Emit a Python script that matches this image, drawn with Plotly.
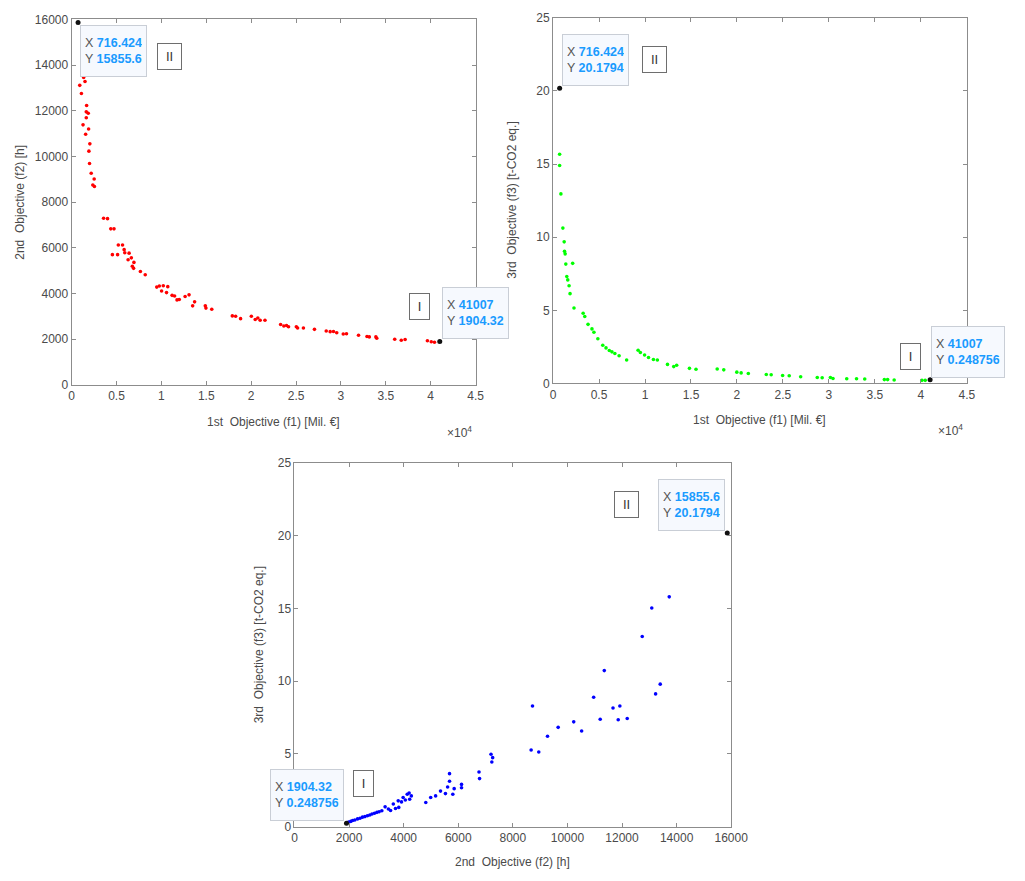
import plotly.graph_objects as go

# ---------------- data ----------------
# Panel 1: f1 vs f2
p1_f1 = [1340, 1490, 905, 1090, 1670, 1630, 1850, 1630, 1270, 1890, 1560, 2030, 1925, 1995, 2180, 2510, 2360, 2540,
         3560, 4000, 4360, 4720, 5200, 5670, 4540, 5120, 5850, 5920, 6400, 6290, 6650, 6940, 6900, 6760, 7660, 8200,
         9480, 9770, 10210, 10020, 10570, 10710, 11190, 11470, 11740, 11990, 12640, 13080, 13480, 13700, 14890, 14960, 15610,
         17900, 18270, 18820, 20020, 20450, 20740, 21000, 21540, 23280, 23640, 23940, 24160, 25030, 25170, 25820, 27050,
         28360, 28800, 29170, 29530, 30260, 30620, 31960, 32900, 33160, 33890, 33990, 35990, 36720, 37150, 39630, 40060, 40420]
p1_f2 = [13450, 13280, 13110, 12750, 12230, 11950, 11890, 11690, 11380, 11200, 10970, 10550, 10230, 9690, 9260, 9010, 8750, 8680,
         7290, 7275, 6830, 6830, 6120, 6120, 5700, 5700, 5920, 5780, 5765, 5480, 5560, 5360, 5100, 5190, 4960, 4820,
         4280, 4325, 4340, 4110, 4040, 4300, 3920, 3890, 3720, 3740, 3870, 3940, 3460, 3635, 3460, 3360, 3310,
         3020, 3005, 2900, 3005, 2860, 2930, 2830, 2830, 2640, 2575, 2600, 2545, 2545, 2490, 2490, 2430,
         2360, 2330, 2340, 2285, 2230, 2240, 2170, 2115, 2100, 2100, 2040, 2000, 1955, 1985, 1930, 1885, 1865]

# Panel 2: f1 vs f3
p2_f1 = [715, 715, 854, 1067, 1210, 1245, 1316, 1387, 2134, 1494, 1600, 1742, 1849, 2276, 3272, 3450, 3805, 4232, 4446,
         4873, 5406, 5761, 6117, 6402, 6722, 7183, 8005, 9250, 9496, 9955, 10382, 10916, 11343, 12446, 13125, 13445,
         14832, 15547, 17851, 18566, 19985, 20456, 21236, 23190, 23723, 24967, 25683, 26928, 28735, 29268, 30160,
         30445, 31941, 33007, 33896, 36031, 36386, 37098, 40118, 40474]
p2_f3 = [15.67, 14.9, 12.96, 10.62, 9.68, 9.03, 8.86, 8.16, 8.21, 7.31, 7.08, 6.68, 6.14, 5.16, 4.80, 4.58, 4.04, 3.73, 3.50,
         3.05, 2.61, 2.43, 2.25, 2.16, 2.05, 1.89, 1.60, 2.27, 2.11, 1.94, 1.77, 1.64, 1.60, 1.30, 1.15, 1.24,
         1.03, 0.97, 0.99, 0.93, 0.77, 0.72, 0.68, 0.61, 0.59, 0.54, 0.52, 0.46, 0.41, 0.39, 0.41,
         0.34, 0.32, 0.32, 0.30, 0.26, 0.26, 0.23, 0.21, 0.21]

# Panel 3: f2 vs f3
p3_f2 = [13730, 13090, 12740, 11350, 13400, 13230, 8720, 10960, 11920, 11670, 10230, 11200, 11860, 12190, 9660, 10520,
         9270, 8670, 8950, 7200, 7260, 7230, 6760, 6780, 5680, 5680, 5610, 5530, 5850, 6120, 6120, 5800, 5350, 5170,
         4990, 4810, 4280, 4220, 4130, 3980, 3920, 3800, 3820, 3620, 3440, 3320, 3200, 3020, 2840, 2670, 2490, 2310,
         2130, 1980, 2060, 2210, 2400, 2580, 2760, 2930, 3100, 3520, 3700, 4060, 4200]
p3_f3 = [15.80, 15.03, 13.07, 10.73, 9.80, 9.13, 8.30, 8.90, 8.30, 8.16, 7.21, 7.39, 7.35, 7.44, 6.83, 6.58,
         6.22, 5.27, 5.14, 4.98, 4.75, 4.45, 3.76, 3.31, 3.65, 3.13, 2.73, 2.28, 2.62, 2.91, 2.68, 2.23, 2.45, 2.12,
         2.01, 1.67, 2.12, 1.89, 2.23, 2.01, 1.71, 1.78, 1.33, 1.56, 1.22, 1.37, 1.10, 0.99, 0.88, 0.76, 0.66, 0.54,
         0.43, 0.32, 0.37, 0.47, 0.59, 0.70, 0.81, 0.93, 1.03, 1.12, 1.26, 1.84, 2.32]

# Extreme solutions (datatips)
pt_I = {"f1": 41007, "f2": 1904.32, "f3": 0.248756}
pt_II = {"f1": 716.424, "f2": 15855.6, "f3": 20.1794}

f1_ticks = [0, 5000, 10000, 15000, 20000, 25000, 30000, 35000, 40000, 45000]
f1_ticktext = ["0", "0.5", "1", "1.5", "2", "2.5", "3", "3.5", "4", "4.5"]
f2_ticks = [0, 2000, 4000, 6000, 8000, 10000, 12000, 14000, 16000]
f2_ticktext = ["0", "2000", "4000", "6000", "8000", "10000", "12000", "14000", "16000"]
f3_ticks = [0, 5, 10, 15, 20, 25]
f3_ticktext = ["0", "5", "10", "15", "20", "25"]

title_f1 = "1st  Objective (f1) [Mil. €]"
title_f2 = "2nd  Objective (f2) [h]"
title_f3 = "3rd  Objective (f3) [t-CO2 eq.]"

# ---------------- figure ----------------
W, H = 1025, 881
def xd(a, b):
    return [a / W, b / W]
def yd(top, bot):
    return [1 - bot / H, 1 - top / H]

AX = "#8c8c8c"
TXT = "#4a4a4a"
FONT = "Liberation Sans, Arial, Helvetica, sans-serif"

fig = go.Figure()

def add_scatter(x, y, color, xa, ya, size=3.6):
    fig.add_trace(go.Scatter(x=x, y=y, mode="markers", xaxis=xa, yaxis=ya,
                             marker=dict(color=color, size=size, line=dict(width=0)),
                             showlegend=False, hoverinfo="skip"))

add_scatter(p1_f1, p1_f2, "#ff0000", "x", "y")
add_scatter(p2_f1, p2_f3, "#00ff00", "x2", "y2")
add_scatter(p3_f2, p3_f3, "#0000ff", "x3", "y3")

# black endpoint markers
add_scatter([pt_II["f1"], pt_I["f1"]], [pt_II["f2"], pt_I["f2"]], "#111111", "x", "y", 5)
add_scatter([pt_II["f1"], pt_I["f1"]], [pt_II["f3"], pt_I["f3"]], "#111111", "x2", "y2", 5)
add_scatter([pt_I["f2"], pt_II["f2"]], [pt_I["f3"], pt_II["f3"]], "#111111", "x3", "y3", 5)

def axis_style(rng, ticks, ticktext, domain, anchor):
    return dict(range=rng, tickvals=ticks, ticktext=ticktext, showgrid=False, zeroline=False,
                showline=True, linecolor=AX, linewidth=1, mirror="ticks",
                ticks="inside", ticklen=4, tickcolor=AX,
                tickfont=dict(family=FONT, size=12, color=TXT),
                domain=domain, anchor=anchor, fixedrange=True)

fig.update_layout(
    width=W, height=H, margin=dict(l=0, r=0, t=0, b=0),
    paper_bgcolor="white", plot_bgcolor="white",
    font=dict(family=FONT, size=12, color=TXT),
    xaxis=axis_style([0, 45000], f1_ticks, f1_ticktext, xd(70, 482), "y"),
    yaxis=axis_style([0, 16000], f2_ticks, f2_ticktext, yd(12.5, 384), "x"),
    xaxis2=axis_style([0, 45000], f1_ticks, f1_ticktext, xd(561, 983), "y2"),
    yaxis2=axis_style([0, 25], f3_ticks, f3_ticktext, yd(11, 382.5), "x2"),
    xaxis3=axis_style([0, 16000], f2_ticks, f2_ticktext, xd(297.3, 742.7), "y3"),
    yaxis3=axis_style([0, 25], f3_ticks, f3_ticktext, yd(463.3, 833), "x3"),
)

ann = []
# axis titles
def xtitle(xa, ya, text, shift):
    ann.append(dict(xref=f"{xa} domain", yref=f"{ya} domain", x=0.5, y=0, yshift=shift,
                    text=text, showarrow=False, xanchor="center", yanchor="middle",
                    font=dict(family=FONT, size=12, color=TXT)))
def ytitle(xa, ya, text, shift):
    ann.append(dict(xref=f"{xa} domain", yref=f"{ya} domain", x=0, y=0.5, xshift=shift,
                    text=text, showarrow=False, textangle=-90, xanchor="center", yanchor="middle",
                    font=dict(family=FONT, size=12, color=TXT)))

xtitle("x", "y", title_f1, -37)
xtitle("x2", "y2", title_f1, -37)
xtitle("x3", "y3", title_f2, -35)
ytitle("x", "y", title_f2, -52)
ytitle("x2", "y2", title_f3, -41)
ytitle("x3", "y3", title_f3, -36)

# x10^4 exponent labels
for xa, ya in [("x", "y"), ("x2", "y2")]:
    ann.append(dict(xref=f"{xa} domain", yref=f"{ya} domain", x=1, y=0, xshift=-2, yshift=-47,
                    text="×10<sup>4</sup>", showarrow=False, xanchor="right", yanchor="middle",
                    font=dict(family=FONT, size=12, color=TXT)))

BLUE = "#1a9bff"
def tip(xa, ya, x, y, xs, ys, xanchor, yanchor, xl, yl):
    txt = (f"X <span style='color:{BLUE}'><b>{xl}</b></span><br>"
           f"Y <span style='color:{BLUE}'><b>{yl}</b></span>")
    ann.append(dict(xref=xa, yref=ya, x=x, y=y, xshift=xs, yshift=ys, text=txt, showarrow=False,
                    xanchor=xanchor, yanchor=yanchor, align="left",
                    bgcolor="#f6f9fe", bordercolor="#c9ced6", borderwidth=1, borderpad=4, height=42,
                    font=dict(family=FONT, size=12.5, color="#555555")))
def label(xa, ya, x, y, xs, ys, xanchor, text):
    ann.append(dict(xref=xa, yref=ya, x=x, y=y, xshift=xs, yshift=ys, text=text, showarrow=False,
                    xanchor=xanchor, yanchor="middle", align="center",
                    bgcolor="white", bordercolor="#6e6e6e", borderwidth=1, borderpad=4,
                    width=11 if text == "I" else 15, height=17,
                    font=dict(family=FONT, size=13, color="#333333")))

def fmt(v):
    return f"{v:g}"

# Panel 1
tip("x", "y", pt_II["f1"], pt_II["f2"], 2, -2, "left", "top", fmt(pt_II["f1"]), fmt(pt_II["f2"]))
label("x", "y", pt_II["f1"], pt_II["f2"], 79, -34, "left", "II")
tip("x", "y", pt_I["f1"], pt_I["f2"], 2, 2, "left", "bottom", fmt(pt_I["f1"]), fmt(pt_I["f2"]))
label("x", "y", pt_I["f1"], pt_I["f2"], -10, 35, "right", "I")
# Panel 2
tip("x2", "y2", pt_II["f1"], pt_II["f3"], 2, 2, "left", "bottom", fmt(pt_II["f1"]), fmt(pt_II["f3"]))
label("x2", "y2", pt_II["f1"], pt_II["f3"], 82, 29, "left", "II")
tip("x2", "y2", pt_I["f1"], pt_I["f3"], 1, 2, "left", "bottom", fmt(pt_I["f1"]), fmt(pt_I["f3"]))
label("x2", "y2", pt_I["f1"], pt_I["f3"], -9, 23, "right", "I")
# Panel 3
tip("x3", "y3", pt_I["f2"], pt_I["f3"], -2, 2, "right", "bottom", fmt(pt_I["f2"]), fmt(pt_I["f3"]))
label("x3", "y3", pt_I["f2"], pt_I["f3"], 7, 40, "left", "I")
tip("x3", "y3", pt_II["f2"], pt_II["f3"], -2, 2, "right", "bottom", fmt(pt_II["f2"]), fmt(pt_II["f3"]))
label("x3", "y3", pt_II["f2"], pt_II["f3"], -88, 29, "right", "II")

fig.update_layout(annotations=ann)
fig.write_html("out.html", config={"displayModeBar": False})
